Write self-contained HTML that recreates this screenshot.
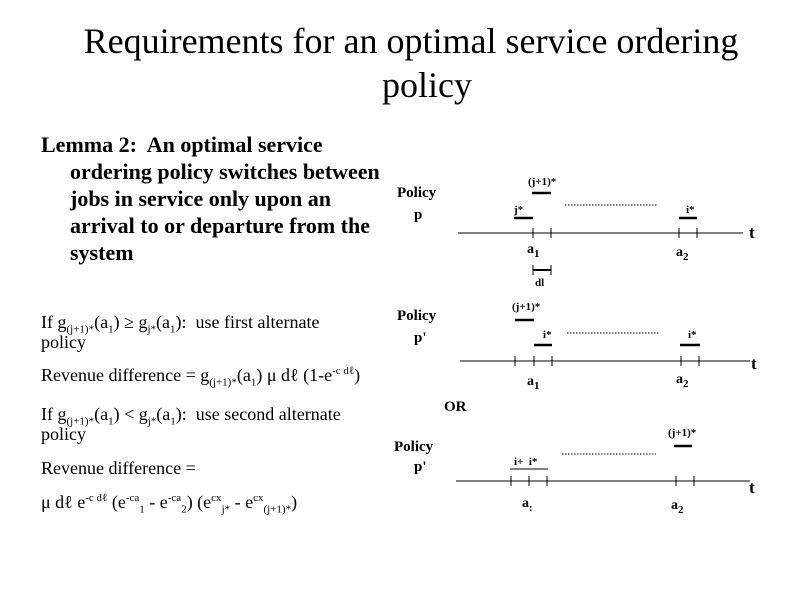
<!DOCTYPE html>
<html><head><meta charset="utf-8"><style>
body{margin:0;width:800px;height:600px;background:#fff;overflow:hidden;font-family:"Liberation Serif",serif;color:#000;position:relative}
.a{position:absolute;white-space:nowrap}
.t{font-size:36px;left:0;width:822px;text-align:center}
.l{font-size:22px;font-weight:bold;left:41px;line-height:27px}
.s{font-size:18px;left:41px}
sub,sup{font-size:11px}
svg{position:absolute;left:0;top:0}
svg text{font-family:"Liberation Serif",serif;font-weight:bold}
</style></head><body>
<div class="a t" style="top:20px">Requirements for an optimal service ordering</div>
<div class="a" style="top:64px;left:382px;font-size:36px">policy</div>
<div class="a l" style="top:131px">Lemma 2:&nbsp; An optimal service<br><span style="padding-left:29px">ordering policy switches between</span><br><span style="padding-left:29px">jobs in service only upon an</span><br><span style="padding-left:29px">arrival to or departure from the</span><br><span style="padding-left:29px">system</span></div>
<div class="a s" style="top:312px">If g<sub>(j+1)*</sub>(a<sub>1</sub>) ≥ g<sub>j*</sub>(a<sub>1</sub>):&nbsp; use first alternate</div>
<div class="a s" style="top:332px">policy</div>
<div class="a s" style="top:365px">Revenue difference = g<sub>(j+1)*</sub>(a<sub>1</sub>) μ dℓ (1-e<sup>-c dℓ</sup>)</div>
<div class="a s" style="top:404px">If g<sub>(j+1)*</sub>(a<sub>1</sub>) &lt; g<sub>j*</sub>(a<sub>1</sub>):&nbsp; use second alternate</div>
<div class="a s" style="top:424px">policy</div>
<div class="a s" style="top:458px">Revenue difference =</div>
<div class="a s" style="top:492px">μ dℓ e<sup>-c dℓ</sup> (e<sup>-ca</sup><sub>1</sub> - e<sup>-ca</sup><sub>2</sub>) (e<sup>cx</sup><sub>j*</sub> - e<sup>cx</sup><sub>(j+1)*</sub>)</div>
<svg width="800" height="600" stroke="#000">
<g font-size="15" stroke="none">
<text x="397" y="197">Policy</text><text x="414" y="219">p</text>
<text x="397" y="320">Policy</text><text x="414" y="342">p'</text>
<text x="394" y="451">Policy</text><text x="414" y="471">p'</text>
<text x="444" y="411">OR</text>
<text x="749" y="238" font-size="17">t</text>
<text x="751" y="369" font-size="17">t</text>
<text x="749" y="493" font-size="17">t</text>
<g font-size="11">
<text x="528" y="185">(j+1)*</text><text x="514" y="213">j*</text><text x="686" y="213">i*</text>
<text x="512" y="310">(j+1)*</text><text x="543" y="338">i*</text><text x="688" y="338">i*</text>
<text x="668" y="436">(j+1)*</text><text x="514" y="465">i+&#160;&#160;i*</text>
</g>
<g font-size="14" font-weight="normal">
<text x="527" y="253">a<tspan font-size="11" dy="4">1</tspan></text>
<text x="676" y="256">a<tspan font-size="11" dy="4">2</tspan></text>
<text x="535" y="286" font-size="11">dl</text>
<text x="527" y="385">a<tspan font-size="11" dy="4">1</tspan></text>
<text x="676" y="383">a<tspan font-size="11" dy="4">2</tspan></text>
<text x="522" y="507">a<tspan font-size="11" dy="4">:</tspan></text>
<text x="671" y="509">a<tspan font-size="11" dy="4">2</tspan></text>
</g>
</g>
<g stroke-width="1">
<line x1="458" y1="233" x2="743" y2="233"/>
<path d="M533 228V238M551 228V238M679 228V238M697 228V238"/>
<line x1="460" y1="361" x2="750" y2="361"/>
<path d="M515 356V366M534 356V366M552 356V366M681 356V366M699 356V366"/>
<line x1="456" y1="481" x2="750" y2="481"/>
<path d="M511 476V486M529 476V486M547 476V486M676 476V486M694 476V486"/>
<path d="M533 265V275M551 265V275" />
<line x1="510" y1="469" x2="548" y2="469"/>
</g>
<g stroke-width="2.5">
<line x1="514" y1="218" x2="533" y2="218"/><line x1="532" y1="193" x2="551" y2="193"/><line x1="679" y1="218" x2="697" y2="218"/>
<line x1="533" y1="270" x2="551" y2="270" stroke-width="2"/>
<line x1="515" y1="320" x2="534" y2="320"/><line x1="534" y1="345" x2="552" y2="345"/><line x1="680" y1="345" x2="700" y2="345"/>
<line x1="674" y1="446" x2="692" y2="446"/>
</g>
<g stroke-dasharray="1.5 1.5" stroke-width="1">
<line x1="565" y1="205" x2="658" y2="205"/><line x1="567" y1="333" x2="660" y2="333"/><line x1="562" y1="454" x2="656" y2="454"/>
</g>
</svg>
</body></html>
